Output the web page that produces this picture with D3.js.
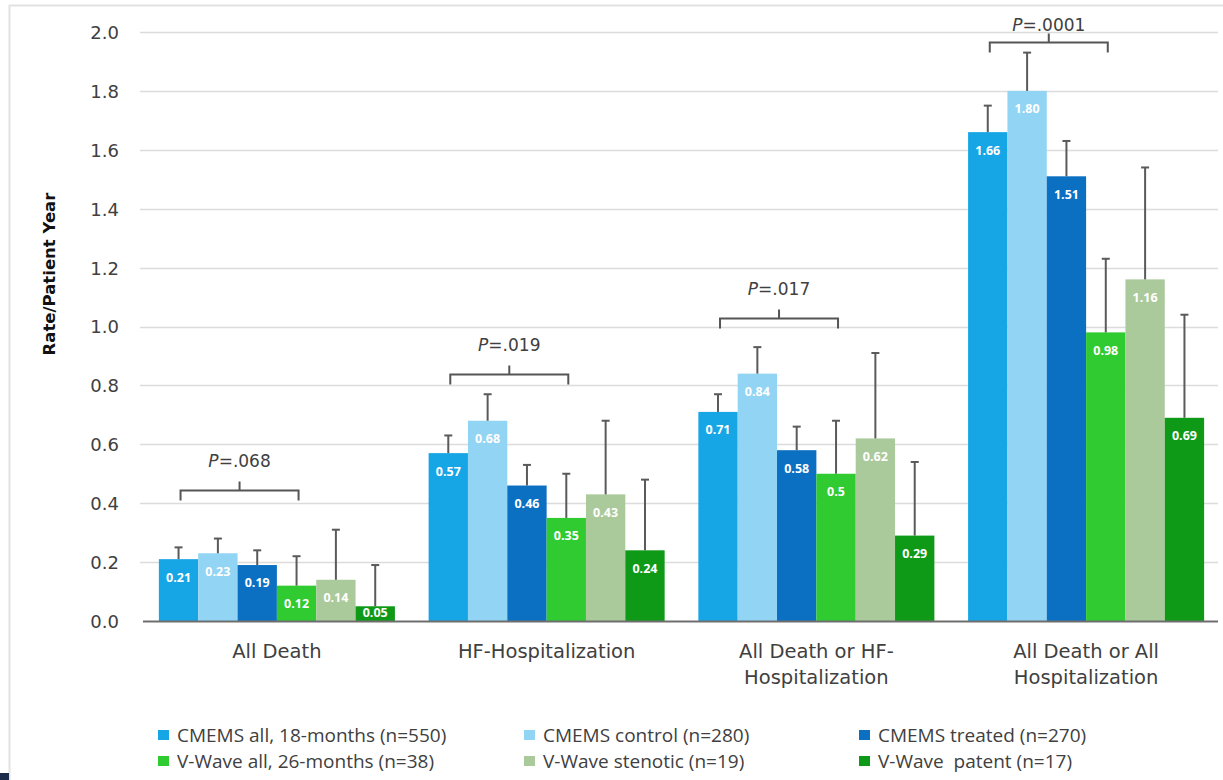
<!DOCTYPE html>
<html>
<head>
<meta charset="utf-8">
<script src="https://cdn.jsdelivr.net/npm/d3@7"></script>
<style>
  html, body { margin: 0; padding: 0; background: #ffffff; }
  svg { display: block; }
</style>
</head>
<body>
<svg id="chart" width="1223" height="780"></svg>
<script>
// Event rates per patient-year, by outcome and cohort
const categories = [
  ["All Death"],
  ["HF-Hospitalization"],
  ["All Death or HF-", "Hospitalization"],
  ["All Death or All", "Hospitalization"]
];
const seriesNames = [
  "CMEMS all, 18-months (n=550)",
  "CMEMS control (n=280)",
  "CMEMS treated (n=270)",
  "V-Wave all, 26-months (n=38)",
  "V-Wave stenotic (n=19)",
  "V-Wave  patent (n=17)"
];
const seriesColors = ["#16a6e6", "#92d4f4", "#0b6fc2", "#2fcb30", "#abca9c", "#0e9a17"];

// rate per series, one value per outcome
const cmemsAll      = [0.21, 0.57, 0.71, 1.66];
const cmemsControl  = [0.23, 0.68, 0.84, 1.80];
const cmemsTreated  = [0.19, 0.46, 0.58, 1.51];
const vwaveAll      = [0.12, 0.35, 0.50, 0.98];
const vwaveStenotic = [0.14, 0.43, 0.62, 1.16];
const vwavePatent   = [0.05, 0.24, 0.29, 0.69];

// printed labels for each bar
const cmemsAllLabels      = ["0.21", "0.57", "0.71", "1.66"];
const cmemsControlLabels  = ["0.23", "0.68", "0.84", "1.80"];
const cmemsTreatedLabels  = ["0.19", "0.46", "0.58", "1.51"];
const vwaveAllLabels      = ["0.12", "0.35", "0.5", "0.98"];
const vwaveStenoticLabels = ["0.14", "0.43", "0.62", "1.16"];
const vwavePatentLabels   = ["0.05", "0.24", "0.29", "0.69"];

// upper confidence limits
const cmemsAllUpper      = [0.25, 0.63, 0.77, 1.75];
const cmemsControlUpper  = [0.28, 0.77, 0.93, 1.93];
const cmemsTreatedUpper  = [0.24, 0.53, 0.66, 1.63];
const vwaveAllUpper      = [0.22, 0.50, 0.68, 1.23];
const vwaveStenoticUpper = [0.31, 0.68, 0.91, 1.54];
const vwavePatentUpper   = [0.19, 0.48, 0.54, 1.04];

// P values (CMEMS all vs V-Wave all) and bracket heights
const pValues = ["=.068", "=.019", "=.017", "=.0001"];
const pBracketAt = [0.445, 0.84, 1.03, 1.965];

const yTicks = [0, 0.2, 0.4, 0.6, 0.8, 1.0, 1.2, 1.4, 1.6, 1.8, 2.0];

const seriesValues = [cmemsAll, cmemsControl, cmemsTreated, vwaveAll, vwaveStenotic, vwavePatent];
const seriesLabels = [cmemsAllLabels, cmemsControlLabels, cmemsTreatedLabels, vwaveAllLabels, vwaveStenoticLabels, vwavePatentLabels];
const seriesUpper = [cmemsAllUpper, cmemsControlUpper, cmemsTreatedUpper, vwaveAllUpper, vwaveStenoticUpper, vwavePatentUpper];

const svg = d3.select("#chart");
const W = 1223, H = 780;
const plot = { left: 140, right: 1223, top: 32, bottom: 621 };
const sans = "'DejaVu Sans', sans-serif";
const open = "'Open Sans', 'DejaVu Sans', sans-serif";
const textColor = "#404040";

// page frame
svg.append("line").attr("x1", 9.5).attr("x2", 9.5).attr("y1", 5).attr("y2", H)
  .attr("stroke", "#e2e2e2").attr("stroke-width", 2);
svg.append("line").attr("x1", 9).attr("x2", W).attr("y1", 5.5).attr("y2", 5.5)
  .attr("stroke", "#e2e2e2").attr("stroke-width", 2);
svg.append("rect").attr("x", 0).attr("y", 773).attr("width", 9).attr("height", 7).attr("fill", "#1d2b4a");

const catIdx = d3.range(categories.length);
const x0 = d3.scaleBand().domain(catIdx).range([plot.left, plot.right])
  .paddingInner(0.125).paddingOuter(0.07);
const x1 = d3.scaleBand().domain(d3.range(seriesNames.length)).range([0, x0.bandwidth()]);
const y = d3.scaleLinear().domain([0, 2]).range([plot.bottom, plot.top]);

// gridlines
svg.append("g").selectAll("line").data(yTicks.filter(t => t > 0)).join("line")
  .attr("x1", plot.left).attr("x2", 1218)
  .attr("y1", d => Math.round(y(d)) + 0.5).attr("y2", d => Math.round(y(d)) + 0.5)
  .attr("stroke", "#dcdcdc").attr("stroke-width", 1.5);

// y axis tick labels
const yAxis = d3.axisLeft(y).tickValues(yTicks).tickFormat(d3.format(".1f")).tickSize(0).tickPadding(0);
const yg = svg.append("g").attr("transform", "translate(119,0)").call(yAxis);
yg.select(".domain").remove();
yg.selectAll("text").attr("font-family", sans).attr("font-size", 18).attr("fill", textColor)
  .attr("dy", "0.36em");

// y axis title
svg.append("text")
  .attr("transform", "translate(55,274) rotate(-90)")
  .attr("text-anchor", "middle").attr("font-family", sans).attr("font-weight", "bold")
  .attr("font-size", 16.5).attr("fill", "#111").text("Rate/Patient Year");

// bars
const groups = svg.append("g").selectAll("g").data(catIdx).join("g")
  .attr("transform", c => `translate(${x0(c)},0)`);

const cells = groups.selectAll("g.cell")
  .data(c => seriesValues.map((vals, s) => ({ c, s, v: vals[c], label: seriesLabels[s][c], up: seriesUpper[s][c] })))
  .join("g").attr("class", "cell");

cells.append("rect")
  .attr("x", d => x1(d.s)).attr("width", x1.bandwidth())
  .attr("y", d => y(d.v)).attr("height", d => y(0) - y(d.v))
  .attr("fill", d => seriesColors[d.s]);

// error bars (upper only)
const errColor = "#5a5a5a";
cells.append("line")
  .attr("x1", d => x1(d.s) + x1.bandwidth() / 2).attr("x2", d => x1(d.s) + x1.bandwidth() / 2)
  .attr("y1", d => y(d.v)).attr("y2", d => y(d.up))
  .attr("stroke", errColor).attr("stroke-width", 2);
cells.append("line")
  .attr("x1", d => x1(d.s) + x1.bandwidth() / 2 - 4).attr("x2", d => x1(d.s) + x1.bandwidth() / 2 + 4)
  .attr("y1", d => y(d.up)).attr("y2", d => y(d.up))
  .attr("stroke", errColor).attr("stroke-width", 2);

// value labels
cells.append("text")
  .attr("x", d => x1(d.s) + x1.bandwidth() / 2)
  .attr("y", d => Math.min(y(d.v) + 18, y(0) - 8))
  .attr("dy", "0.35em").attr("text-anchor", "middle")
  .attr("font-family", open).attr("font-weight", "bold").attr("font-size", 12.5)
  .attr("fill", "#ffffff")
  .text(d => d.label);

// x axis baseline
svg.append("line").attr("x1", 143).attr("x2", 1218)
  .attr("y1", y(0) + 0.5).attr("y2", y(0) + 0.5)
  .attr("stroke", "#6e6e6e").attr("stroke-width", 2);

// category labels
groups.append("text")
  .attr("x", x0.bandwidth() / 2).attr("y", 658)
  .attr("text-anchor", "middle").attr("font-family", sans).attr("font-size", 19.5).attr("fill", textColor)
  .selectAll("tspan").data(c => categories[c]).join("tspan")
  .attr("x", x0.bandwidth() / 2).attr("dy", (d, i) => i === 0 ? 0 : 26).text(d => d);

// P-value brackets between CMEMS all and V-Wave all
const bracket = groups.append("g");
bracket.append("path")
  .attr("d", c => {
    const xa = x1(0) + x1.bandwidth() / 2 + 2, xb = x1(3) + x1.bandwidth() / 2 + 2;
    const yl = Math.round(y(pBracketAt[c])) + 0.5;
    const xm = (xa + xb) / 2;
    return `M${xa},${yl + 10}V${yl}H${xb}V${yl + 10}M${xm},${yl}V${yl - 9}`;
  })
  .attr("fill", "none").attr("stroke", "#555").attr("stroke-width", 2);
const pText = bracket.append("text")
  .attr("x", (x1(0) + x1(3) + x1.bandwidth()) / 2 + 2)
  .attr("y", c => Math.max(y(pBracketAt[c]) - 23, 31))
  .attr("text-anchor", "middle").attr("font-family", sans).attr("font-size", 17).attr("fill", textColor);
pText.append("tspan").attr("font-style", "italic").text("P");
pText.append("tspan").text(c => pValues[c]);

// legend
const legendCols = [158, 524, 859];
const legend = svg.append("g").selectAll("g").data(seriesNames).join("g")
  .attr("transform", (d, i) => `translate(${legendCols[i % 3]},${i < 3 ? 735 : 761})`);
legend.append("rect").attr("x", 0).attr("y", -5).attr("width", 11).attr("height", 10)
  .attr("fill", (d, i) => seriesColors[i]);
legend.append("text").attr("x", 19).attr("dy", "0.35em")
  .style("white-space", "pre")
  .attr("font-family", open).attr("font-size", 19).attr("fill", textColor).text(d => d);
</script>
</body>
</html>
